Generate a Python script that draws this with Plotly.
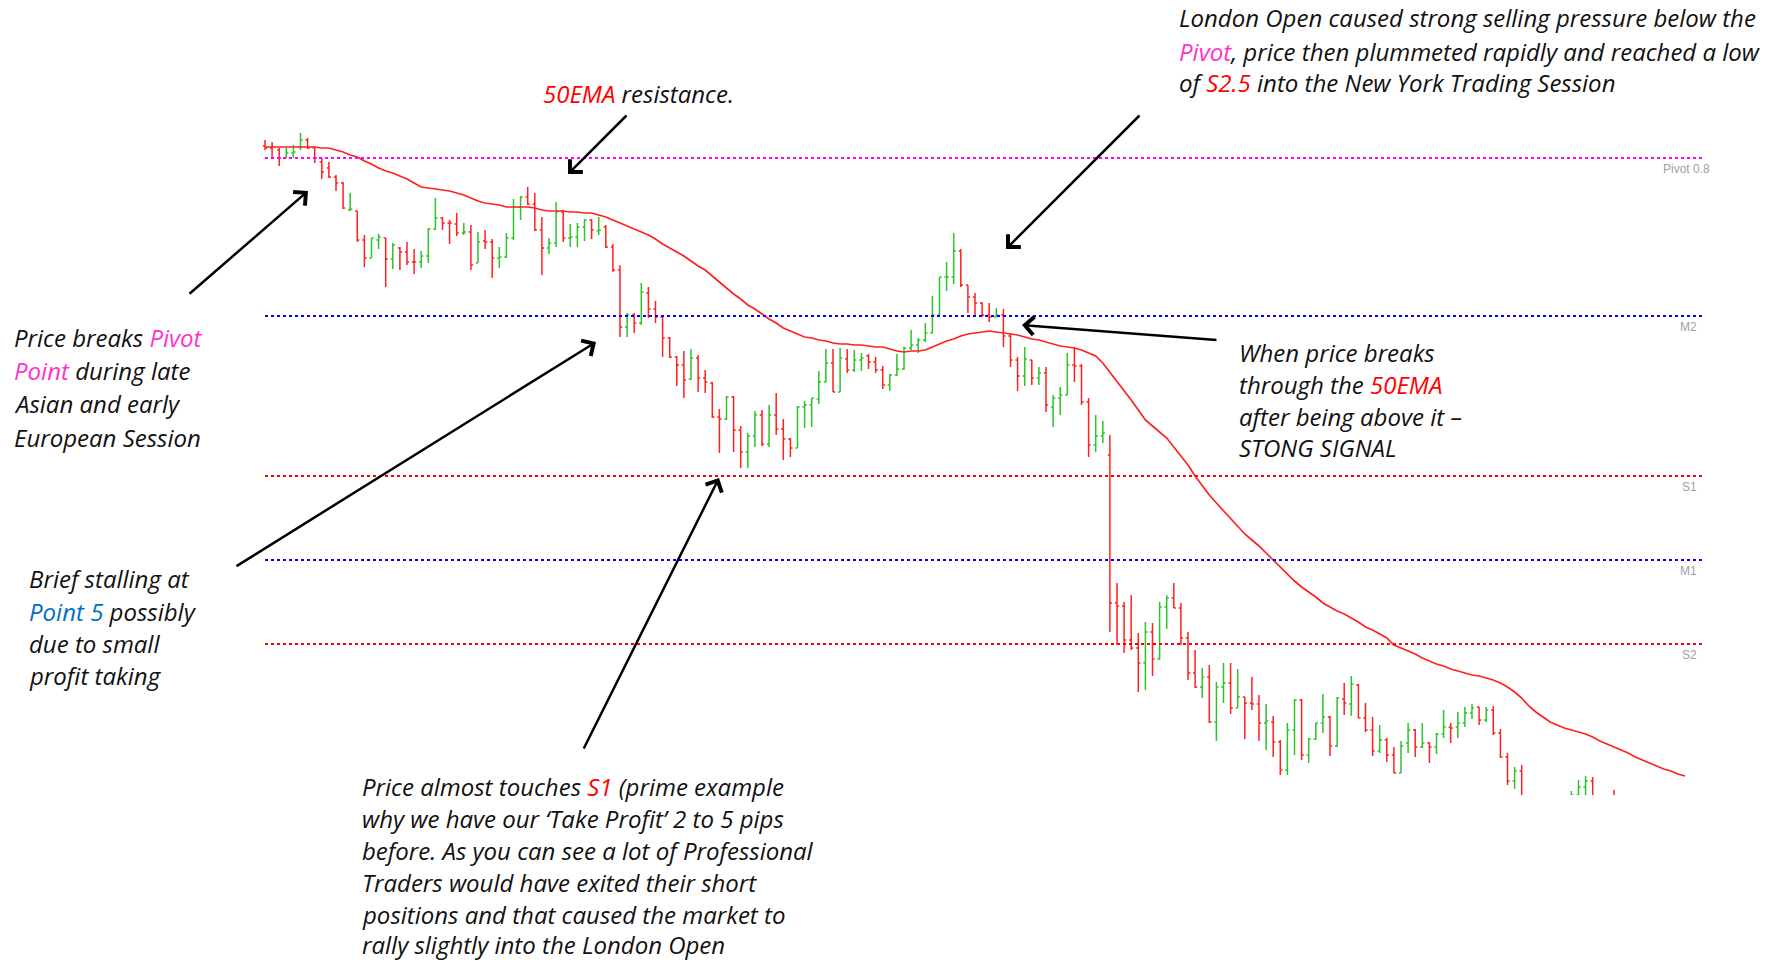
import plotly.graph_objects as go

# 5-minute bars, prices in points (1 point = 0.00001)
bar_open = [
    87012, 87010, 87008, 87000, 87005, 87011, 87018, 87010, 86996, 86990,
    86981, 86975, 86948, 86947, 86918, 86900, 86918, 86920, 86899, 86910,
    86906, 86896, 86896, 86902, 86929, 86940, 86935, 86934, 86925, 86926,
    86895, 86917, 86916, 86900, 86901, 86920, 86951, 86961, 86954, 86928,
    86910, 86915, 86946, 86920, 86921, 86931, 86938, 86927, 86931, 86911,
    86888, 86831, 86843, 86835, 86865, 86849, 86841, 86820, 86801, 86793,
    86779, 86800, 86780, 86775, 86741, 86739, 86761, 86728, 86706, 86722,
    86743, 86714, 86743, 86729, 86719, 86710, 86751, 86753, 86759, 86776,
    86795, 86766, 86799, 86788, 86798, 86802, 86796, 86788, 86773, 86783,
    86789, 86810, 86813, 86818, 86825, 86843, 86881, 86881, 86907, 86873,
    86861, 86855, 86843, 86841, 86843, 86822, 86798, 86782, 86798, 86780,
    86785, 86751, 86760, 86763, 86793, 86792, 86756, 86713, 86722, 86703,
    86555, 86552, 86518, 86510, 86495, 86526, 86499, 86551, 86560, 86550,
    86520, 86485, 86471, 86481, 86436, 86471, 86475, 86450, 86461, 86455,
    86454, 86435, 86436, 86416, 86388, 86428, 86458, 86403, 86419, 86435,
    86441, 86412, 86459, 86454, 86473, 86440, 86428, 86407, 86418, 86403,
    86385, 86415, 86428, 86411, 86415, 86411, 86424, 86431, 86431, 86435,
    86445, 86451, 86438, 86448, 86425, 86401, 86377, 86387, 86353, 86333,
    86346, 86323, 86343, 86346, 86358, 86363, 86371, 86377, 86348, 86333,
    86346,
]
bar_high = [
    87018, 87016, 87010, 87010, 87013, 87025, 87020, 87010, 87000, 86996,
    86983, 86976, 86965, 86947, 86923, 86920, 86924, 86920, 86915, 86911,
    86916, 86909, 86907, 86930, 86960, 86941, 86938, 86945, 86935, 86933,
    86926, 86928, 86919, 86911, 86925, 86959, 86962, 86971, 86965, 86941,
    86920, 86956, 86948, 86934, 86935, 86939, 86939, 86941, 86933, 86914,
    86893, 86845, 86845, 86875, 86871, 86857, 86843, 86821, 86802, 86807,
    86809, 86803, 86788, 86776, 86749, 86762, 86762, 86732, 86725, 86747,
    86748, 86753, 86765, 86739, 86720, 86752, 86757, 86760, 86787, 86809,
    86809, 86810, 86809, 86808, 86805, 86804, 86801, 86792, 86784, 86804,
    86811, 86828, 86820, 86835, 86862, 86881, 86896, 86925, 86909, 86873,
    86865, 86856, 86855, 86850, 86849, 86825, 86801, 86811, 86798, 86791,
    86791, 86763, 86771, 86805, 86811, 86794, 86760, 86743, 86737, 86723,
    86575, 86556, 86563, 86525, 86536, 86535, 86556, 86563, 86575, 86555,
    86526, 86508, 86490, 86493, 86476, 86495, 86495, 86489, 86461, 86481,
    86463, 86454, 86442, 86418, 86435, 86459, 86459, 86420, 86435, 86464,
    86442, 86461, 86475, 86482, 86474, 86455, 86441, 86433, 86420, 86411,
    86417, 86435, 86429, 86435, 86416, 86425, 86448, 86435, 86446, 86451,
    86454, 86451, 86451, 86452, 86429, 86405, 86391, 86393, 86358, 86353,
    86350, 86348, 86358, 86362, 86367, 86378, 86382, 86381, 86356, 86353,
    86368,
]
bar_low = [
    87008, 86999, 86992, 87000, 87000, 87008, 87009, 86995, 86979, 86980,
    86967, 86949, 86947, 86916, 86891, 86900, 86909, 86871, 86889, 86888,
    86893, 86884, 86890, 86895, 86928, 86928, 86914, 86922, 86923, 86888,
    86895, 86909, 86880, 86890, 86900, 86918, 86938, 86953, 86927, 86883,
    86904, 86911, 86916, 86911, 86911, 86917, 86919, 86923, 86910, 86886,
    86821, 86821, 86825, 86833, 86840, 86835, 86801, 86800, 86772, 86760,
    86778, 86766, 86765, 86740, 86705, 86738, 86706, 86690, 86690, 86711,
    86712, 86711, 86723, 86698, 86701, 86710, 86730, 86731, 86754, 86776,
    86766, 86766, 86785, 86786, 86787, 86789, 86785, 86769, 86767, 86782,
    86788, 86808, 86805, 86816, 86825, 86843, 86867, 86874, 86871, 86845,
    86843, 86841, 86836, 86841, 86811, 86791, 86767, 86772, 86773, 86773,
    86746, 86731, 86743, 86763, 86776, 86753, 86701, 86706, 86715, 86526,
    86513, 86505, 86508, 86466, 86468, 86482, 86498, 86529, 86550, 86513,
    86478, 86470, 86460, 86435, 86417, 86455, 86444, 86450, 86419, 86448,
    86417, 86408, 86401, 86383, 86383, 86403, 86398, 86395, 86418, 86425,
    86402, 86411, 86443, 86442, 86440, 86426, 86402, 86405, 86396, 86385,
    86385, 86405, 86401, 86410, 86395, 86404, 86420, 86415, 86420, 86431,
    86439, 86433, 86436, 86423, 86400, 86373, 86369, 86348, 86328, 86323,
    86318, 86320, 86333, 86338, 86343, 86352, 86358, 86343, 86328, 86326,
    86328,
]
bar_close = [
    87010, 87000, 87000, 87005, 87006, 87018, 87010, 87000, 86986, 86981,
    86975, 86950, 86949, 86918, 86900, 86920, 86921, 86899, 86913, 86906,
    86896, 86896, 86902, 86929, 86940, 86935, 86935, 86925, 86926, 86893,
    86916, 86916, 86900, 86901, 86920, 86951, 86961, 86954, 86928, 86910,
    86915, 86946, 86920, 86921, 86931, 86938, 86928, 86928, 86911, 86888,
    86831, 86843, 86835, 86866, 86849, 86841, 86820, 86801, 86793, 86778,
    86800, 86780, 86776, 86741, 86739, 86761, 86728, 86706, 86722, 86743,
    86714, 86743, 86729, 86719, 86710, 86751, 86753, 86760, 86776, 86795,
    86766, 86800, 86788, 86798, 86800, 86796, 86788, 86773, 86783, 86789,
    86810, 86813, 86818, 86825, 86843, 86881, 86881, 86907, 86873, 86861,
    86855, 86843, 86841, 86843, 86822, 86798, 86782, 86799, 86780, 86785,
    86753, 86760, 86763, 86793, 86792, 86756, 86713, 86722, 86725, 86555,
    86552, 86518, 86510, 86495, 86526, 86499, 86551, 86560, 86550, 86520,
    86485, 86471, 86481, 86436, 86471, 86475, 86450, 86461, 86455, 86454,
    86435, 86437, 86416, 86388, 86428, 86458, 86403, 86419, 86435, 86441,
    86412, 86460, 86455, 86474, 86440, 86428, 86407, 86418, 86403, 86385,
    86412, 86428, 86411, 86415, 86411, 86424, 86431, 86430, 86435, 86445,
    86450, 86438, 86448, 86425, 86401, 86377, 86387, 86353, 86333, 86346,
    86323, 86343, 86353, 86358, 86363, 86371, 86377, 86348, 86333, 86346,
    86336,
]
ema_50 = [
    87011, 87011, 87011, 87011, 87011, 87011, 87011, 87011, 87010, 87010,
    87008, 87006, 87003, 87001, 86997, 86994, 86990, 86987, 86985, 86982,
    86979, 86975, 86971, 86970, 86969, 86968, 86967, 86965, 86963, 86960,
    86957, 86955, 86954, 86953, 86951, 86951, 86951, 86951, 86950, 86948,
    86947, 86947, 86947, 86946, 86946, 86945, 86945, 86943, 86941, 86938,
    86935, 86932, 86929, 86926, 86923, 86919, 86914, 86910, 86906, 86902,
    86897, 86892, 86888, 86882, 86876, 86870, 86864, 86859, 86853, 86849,
    86844, 86839, 86835, 86830, 86827, 86824, 86821, 86820, 86818, 86817,
    86815, 86814, 86814, 86813, 86813, 86812, 86811, 86811, 86809, 86807,
    86806, 86807, 86807, 86808, 86811, 86814, 86817, 86819, 86822, 86824,
    86825, 86826, 86827, 86826, 86825, 86824, 86823, 86821, 86819, 86818,
    86816, 86814, 86812, 86811, 86810, 86808, 86805, 86802, 86795, 86786,
    86776, 86767, 86758, 86748, 86738, 86732, 86726, 86720, 86711, 86702,
    86693, 86682, 86672, 86663, 86655, 86647, 86639, 86631, 86624, 86618,
    86612, 86605, 86598, 86591, 86583, 86577, 86571, 86566, 86561, 86555,
    86551, 86547, 86544, 86540, 86536, 86531, 86528, 86524, 86520, 86513,
    86510, 86507, 86504, 86500, 86497, 86494, 86492, 86489, 86487, 86485,
    86483, 86482, 86480, 86478, 86475, 86471, 86466, 86460, 86452, 86446,
    86441, 86436, 86433, 86430, 86428, 86426, 86424, 86421, 86417, 86414,
    86411, 86408, 86405, 86401, 86398, 86395, 86392, 86389, 86387, 86384,
    86382,
]

level_names = ["Pivot 0.8", "M2", "S1", "M1", "S2"]
level_values = [87000, 86842, 86682, 86598, 86514]
level_colors = ["#FF00FF", "#0000FF", "#FF0000", "#0000FF", "#FF0000"]

PINK = "#FF33CC"
RED = "#FF0000"
BLUE = "#0070C0"

london_text = [
    "London Open caused strong selling pressure below the",
    f"<span style='color:{PINK}'>Pivot</span>, price then plummeted rapidly and reached a low",
    f"of <span style='color:{RED}'>S2.5</span> into the New York Trading Session",
]
ema_text = [f"<span style='color:{RED}'>50EMA</span> resistance."]
pivot_text = [
    f"Price breaks <span style='color:{PINK}'>Pivot</span>",
    f"<span style='color:{PINK}'>Point</span> during late",
    "Asian and early",
    "European Session",
]
signal_text = [
    "When price breaks",
    f"through the <span style='color:{RED}'>50EMA</span>",
    "after being above it \u2013",
    "STONG SIGNAL",
]
stall_text = [
    "Brief stalling at",
    f"<span style='color:{BLUE}'>Point 5</span> possibly",
    "due to small",
    "profit taking",
]
s1_text = [
    f"Price almost touches <span style='color:{RED}'>S1</span> (prime example",
    "why we have our \u2018Take Profit\u2019 2 to 5 pips",
    "before. As you can see a lot of Professional",
    "Traders would have exited their short",
    "positions and that caused the market to",
    "rally slightly into the London Open",
]

# page geometry (pixels)
W, H = 1781, 963
L, R, T, B = 261, 1705, 130, 795
BAR_PX = 7.1


def px(X):
    return (X - L) / (R - L)


def py(Y):
    return (B - Y) / (B - T)


def price(v):
    return [p / 1e5 for p in v]


n = len(bar_open)
fig = go.Figure()
fig.add_trace(go.Ohlc(
    x=list(range(n)),
    open=price(bar_open), high=price(bar_high),
    low=price(bar_low), close=price(bar_close),
    increasing=dict(line=dict(color="#2BC42B", width=1.5)),
    decreasing=dict(line=dict(color="#FF2020", width=1.5)),
    tickwidth=0.3,
    hoverinfo="skip",
))
fig.add_trace(go.Scatter(
    x=list(range(len(ema_50))), y=price(ema_50),
    mode="lines", line=dict(color="#FF2020", width=1.7),
    hoverinfo="skip",
))

for name, val, col in zip(level_names, level_values, level_colors):
    fig.add_shape(type="line", xref="paper", yref="y",
                  x0=px(265), x1=1, y0=val / 1e5, y1=val / 1e5,
                  line=dict(color=col, width=2, dash="dot"))
    left = name.startswith("Pivot")
    fig.add_annotation(x=px(1661) if left else px(1699), y=val / 1e5,
                       xref="paper", yref="y", yshift=-11,
                       text=name, showarrow=False,
                       xanchor="left" if left else "right", yanchor="middle",
                       font=dict(family="Liberation Sans Narrow, Liberation Sans, Arial",
                                 size=12, color="#A0A0A0"))


def block(lines, X, ys, size=24):
    for s, Y in zip(lines, ys):
        fig.add_annotation(x=px(X), y=py(Y), xref="paper", yref="paper",
                           text=s, showarrow=False, xanchor="left", yanchor="middle",
                           font=dict(family="Open Sans", size=size, color="#111111",
                                     style="italic"))


block(london_text, 1177, [18, 51, 83])
block(ema_text, 541, [94])
block(pivot_text, 12, [337, 370, 403, 437])
block(signal_text, 1237, [352, 384, 416, 447])
block(stall_text, 27, [578, 611, 643, 675])
block(s1_text, 360, [786, 818, 850, 882, 914, 945])

arrows = [
    ((188, 295), (308, 191)),
    ((628, 114), (568, 174)),
    ((1141, 114), (1006, 249)),
    ((1218, 340), (1022, 325)),
    ((235, 567), (596, 342)),
    ((583, 750), (719, 478)),
]
for (tx, ty), (hx, hy) in arrows:
    fig.add_annotation(x=px(hx), y=py(hy), xref="paper", yref="paper",
                       ax=tx - hx, ay=ty - hy, axref="pixel", ayref="pixel",
                       text="", showarrow=True, arrowhead=4, arrowsize=1.4,
                       arrowwidth=2.5, arrowcolor="#000000", standoff=0)

x0 = -(265 - L) / BAR_PX
fig.update_layout(
    width=W, height=H,
    margin=dict(l=L, r=W - R, t=T, b=H - B, pad=0),
    plot_bgcolor="white", paper_bgcolor="white",
    showlegend=False,
    xaxis=dict(visible=False, range=[x0, x0 + (R - L) / BAR_PX],
               rangeslider=dict(visible=False)),
    yaxis=dict(visible=False, range=[(87158 - B) / 1e5, (87158 - T) / 1e5]),
)

fig.write_html("out.html", config={"displayModeBar": False},
               post_script="document.body.style.margin='0';")
